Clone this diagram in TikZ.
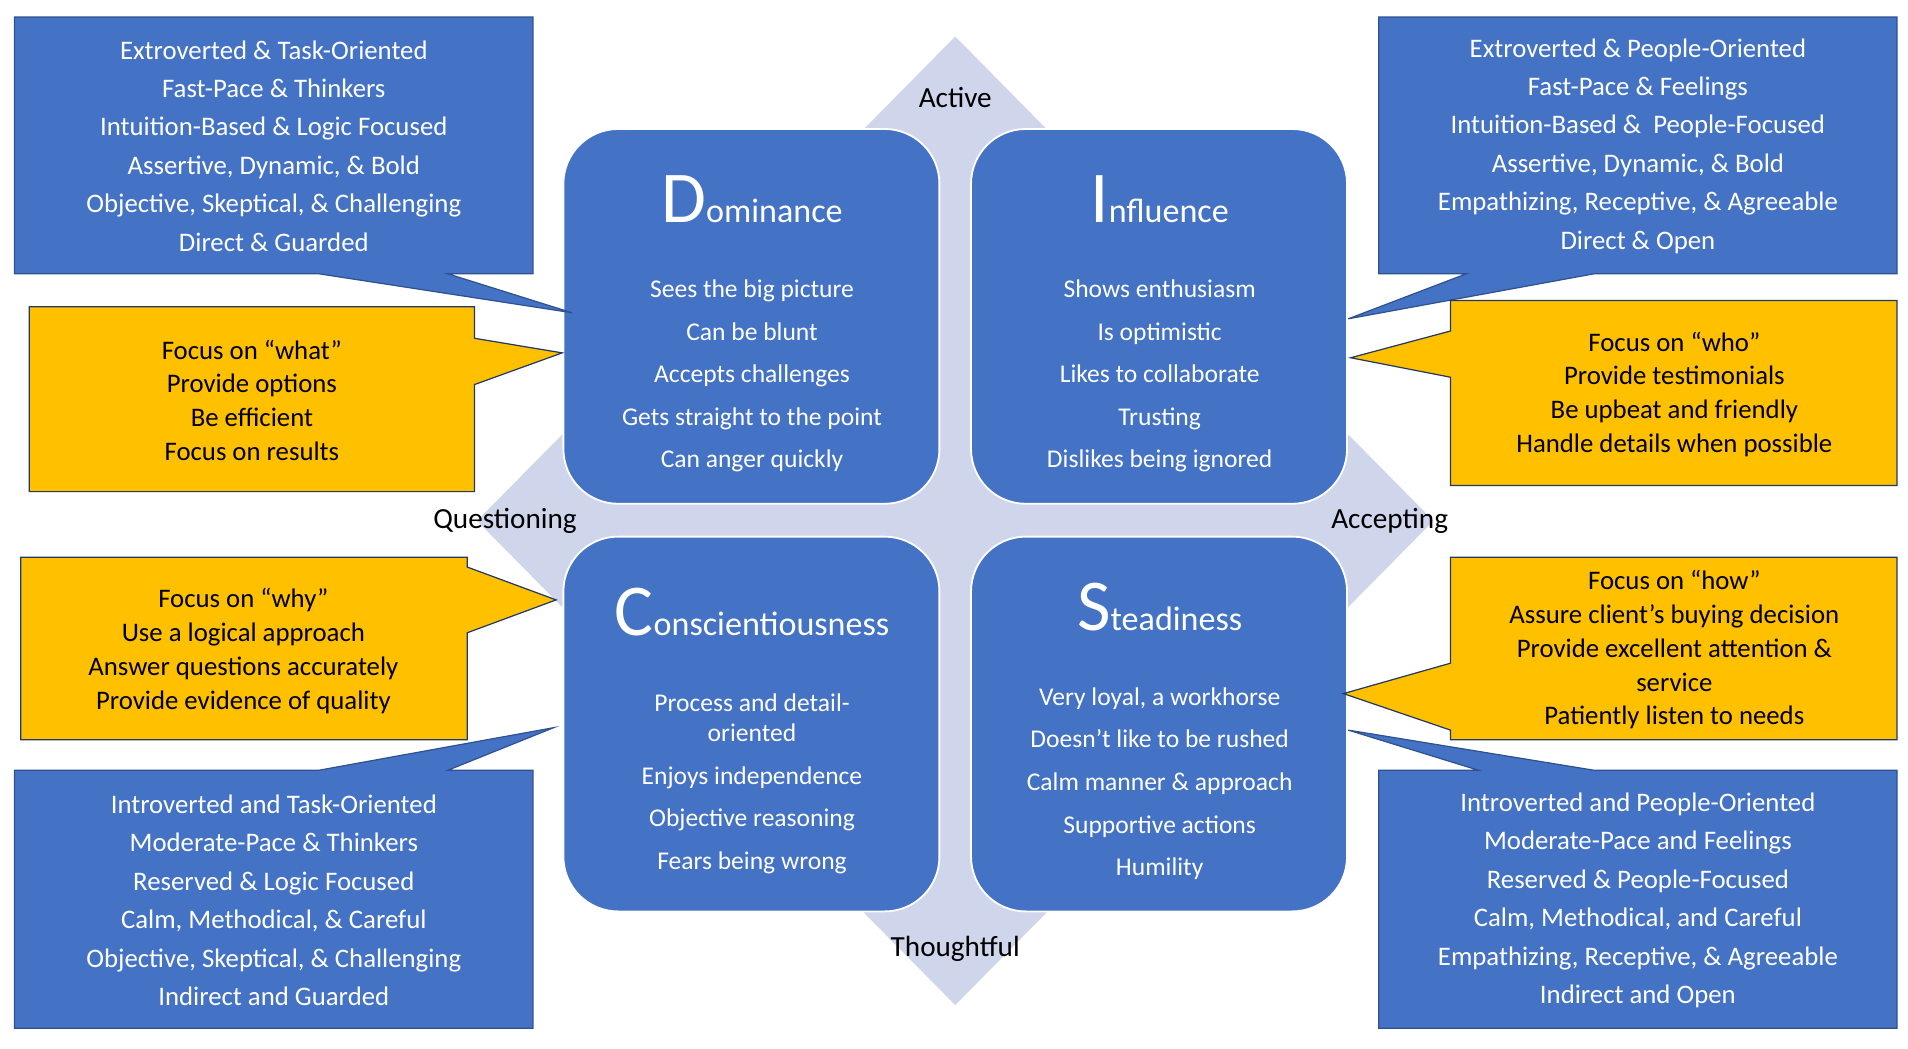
\documentclass[tikz,border=0pt]{standalone}
\usepackage{fontspec}
\setmainfont{Carlito}
\definecolor{discblue}{RGB}{68,114,196}
\definecolor{edgeblue}{RGB}{47,82,143}
\definecolor{gold}{RGB}{255,192,0}
\definecolor{lav}{RGB}{207,213,234}
\begin{document}
\begin{tikzpicture}[x=1pt,y=-1pt,
  quad/.style={fill=discblue,draw=white,line width=1.5pt,rounded corners=45pt},
  bcall/.style={fill=discblue,draw=edgeblue,line width=1pt},
  ycall/.style={fill=gold,draw=edgeblue!70!black,line width=1pt},
  btxt/.style={text=white,align=center,font=\fontsize{22}{31.6}\selectfont},
  ytxt/.style={text=black,align=center,font=\fontsize{22}{27.8}\selectfont},
  qtxt/.style={text=white,align=center,font=\fontsize{21}{35}\selectfont},
  axis/.style={text=black,font=\fontsize{24}{24}\selectfont},
]
\useasboundingbox (0,0) rectangle (1568,862);
% diamond
\fill[lav] (785,30) -- (1178,428) -- (785,826) -- (392,428) -- cycle;
\node[axis] (act) at (785,80) {Active};
\node[axis] (que) at (415,428) {Questioning};
\node[axis] (acc) at (1142,428) {Accepting};
\node[axis] (tho) at (785,780) {Thoughtful};
% quadrants
\draw[quad] (463,106) rectangle (772,414);
\draw[quad] (798,106) rectangle (1107,414);
\draw[quad] (463,441) rectangle (772,749);
\draw[quad] (798,441) rectangle (1107,749);
\node[text=white,anchor=base] (dt) at (618,183) {{\fontsize{60}{60}\selectfont D}{\fontsize{28}{28}\selectfont ominance}};
\node[text=white,anchor=base] (it) at (953,183) {{\fontsize{60}{60}\selectfont I}{\fontsize{28}{28}\selectfont nfluence}};
\node[text=white,anchor=base] (ct) at (618,522) {{\fontsize{60}{60}\selectfont C}{\fontsize{28}{28}\selectfont onscientiousness}};
\node[text=white,anchor=base] (st) at (953,518) {{\fontsize{60}{60}\selectfont S}{\fontsize{28}{28}\selectfont teadiness}};
\node[qtxt] (dl) at (618,309) {Sees the big picture\\Can be blunt\\Accepts challenges\\Gets straight to the point\\Can anger quickly};
\node[qtxt] (il) at (953,309) {Shows enthusiasm\\Is optimistic\\Likes to collaborate\\Trusting\\Dislikes being ignored};
\node[qtxt] (cl) at (618,644) {Process and detail-\\[-10pt]oriented\\Enjoys independence\\Objective reasoning\\Fears being wrong};
\node[qtxt] (sl) at (953,644) {Very loyal, a workhorse\\Doesn’t like to be rushed\\Calm manner \& approach\\Supportive actions\\Humility};
% callouts: blue
\draw[bcall] (12,14) -- (438,14) -- (438,225) -- (368,225) -- (470,257) -- (262,225) -- (12,225) -- cycle;
\node[btxt] (tlb) at (225,120) {Extroverted \& Task-Oriented\\Fast-Pace \& Thinkers\\Intuition-Based \& Logic Focused\\Assertive, Dynamic, \& Bold\\Objective, Skeptical, \& Challenging\\Direct \& Guarded};
\draw[bcall] (1133,14) -- (1559,14) -- (1559,225) -- (1310,225) -- (1108,262) -- (1205,225) -- (1133,225) -- cycle;
\node[btxt] (trb) at (1346,120) {Extroverted \& People-Oriented\\Fast-Pace \& Feelings\\Intuition-Based \&\ \ People-Focused\\Assertive, Dynamic, \& Bold\\Empathizing, Receptive, \& Agreeable\\Direct \& Open};
\draw[bcall] (12,633) -- (262,633) -- (455,598) -- (368,633) -- (438,633) -- (438,845) -- (12,845) -- cycle;
\node[btxt] (blb) at (225,740) {Introverted and Task-Oriented\\Moderate-Pace \& Thinkers\\Reserved \& Logic Focused\\Calm, Methodical, \& Careful\\Objective, Skeptical, \& Challenging\\Indirect and Guarded};
\draw[bcall] (1133,633) -- (1215,633) -- (1108,600) -- (1310,633) -- (1559,633) -- (1559,845) -- (1133,845) -- cycle;
\node[btxt] (brb) at (1346,740) {Introverted and People-Oriented\\Moderate-Pace and Feelings\\Reserved \& People-Focused\\Calm, Methodical, and Careful\\Empathizing, Receptive, \& Agreeable\\Indirect and Open};
% callouts: yellow
\draw[ycall] (24,252) -- (390,252) -- (390,278) -- (462,290) -- (390,316) -- (390,404) -- (24,404) -- cycle;
\node[ytxt] (tly) at (207,329) {Focus on “what”\\Provide options\\Be efficient\\Focus on results};
\draw[ycall] (1192,247) -- (1559,247) -- (1559,399) -- (1192,399) -- (1192,310) -- (1110,294) -- (1192,272) -- cycle;
\node[ytxt] (try) at (1376,324) {Focus on “who”\\Provide testimonials\\Be upbeat and friendly\\Handle details when possible};
\draw[ycall] (17,458) -- (384,458) -- (384,466) -- (457,493) -- (384,520) -- (384,608) -- (17,608) -- cycle;
\node[ytxt] (bly) at (200,535) {Focus on “why”\\Use a logical approach\\Answer questions accurately\\Provide evidence of quality};
\draw[ycall] (1192,458) -- (1559,458) -- (1559,608) -- (1192,608) -- (1192,600) -- (1104,570) -- (1192,545) -- cycle;
\node[ytxt] (bry) at (1376,534) {Focus on “how”\\Assure client’s buying decision\\Provide excellent attention \&\\service\\Patiently listen to needs};
\end{tikzpicture}
\end{document}
